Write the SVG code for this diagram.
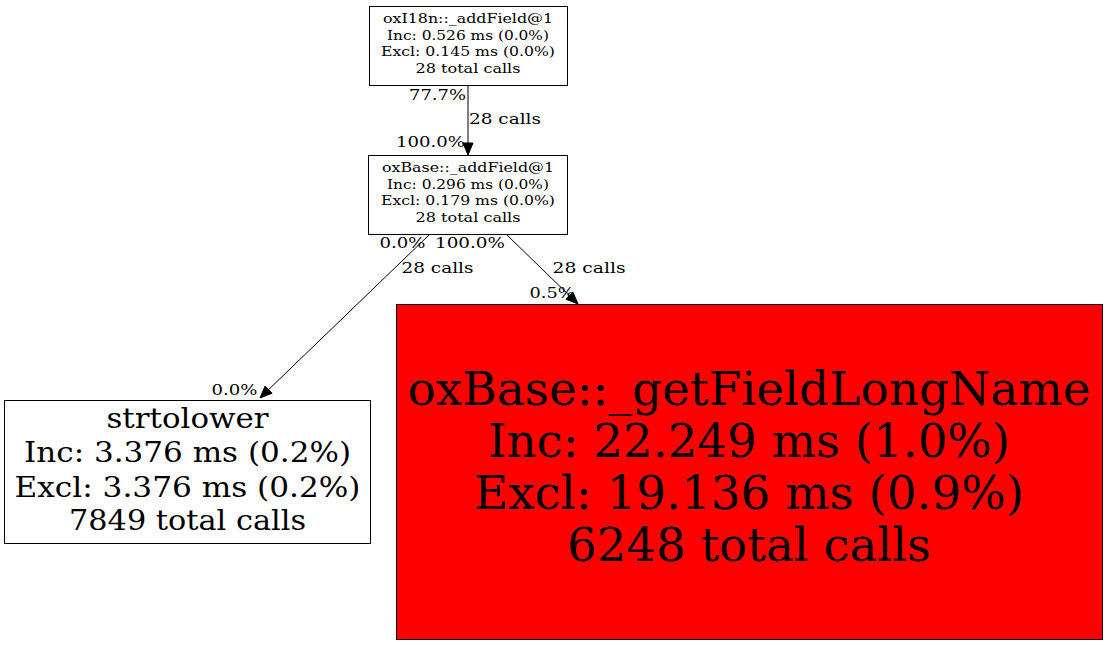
<svg xmlns="http://www.w3.org/2000/svg" width="1108" height="645" viewBox="0 0 1108 645">
<style>
text{font-family:"DejaVu Serif","Liberation Serif",serif;fill:#000}
.n rect{stroke:#000;stroke-width:1}
.s{font-size:13.3px;text-anchor:middle}
.m{font-size:27px;text-anchor:middle}
.b{font-size:46px;text-anchor:middle}
.e{font-size:14.6px}
.edges path{fill:none;stroke:#000;stroke-width:1}
.edges polygon{fill:#000;stroke:#000;stroke-width:1}
</style>
<rect width="1108" height="645" fill="#fff"/>
<g class="edges">
<path d="M468,85.5 L468,143"/>
<polygon points="463,143 473,143 468,155"/>
<path d="M429,235 L268.6,389.6"/>
<polygon points="272.1,393.2 265.1,386 260,398"/>
<path d="M507,235 L569.4,295.6"/>
<polygon points="565.9,299.2 572.9,292 578,304"/>
<text class="e" x="466" y="100" text-anchor="end" textLength="57" lengthAdjust="spacingAndGlyphs">77.7%</text>
<text class="e" x="469" y="124" textLength="72" lengthAdjust="spacingAndGlyphs">28 calls</text>
<text class="e" x="465" y="147" text-anchor="end" textLength="69" lengthAdjust="spacingAndGlyphs">100.0%</text>
<text class="e" x="379.5" y="248" textLength="46" lengthAdjust="spacingAndGlyphs">0.0%</text>
<text class="e" x="435" y="248" textLength="70" lengthAdjust="spacingAndGlyphs">100.0%</text>
<text class="e" x="401.5" y="273" textLength="72" lengthAdjust="spacingAndGlyphs">28 calls</text>
<text class="e" x="552.5" y="273" textLength="73" lengthAdjust="spacingAndGlyphs">28 calls</text>
<text class="e" x="529.5" y="298" textLength="45" lengthAdjust="spacingAndGlyphs">0.5%</text>
<text class="e" x="211.5" y="395" textLength="46" lengthAdjust="spacingAndGlyphs">0.0%</text>
</g>
<g id="node1" class="n">
<rect x="369.5" y="6.5" width="198" height="79" fill="#fff"/>
<text class="s" x="468" y="23" textLength="170" lengthAdjust="spacingAndGlyphs">oxI18n::_addField@1</text>
<text class="s" x="468" y="39.5" textLength="162" lengthAdjust="spacingAndGlyphs">Inc: 0.526 ms (0.0%)</text>
<text class="s" x="468" y="56" textLength="174" lengthAdjust="spacingAndGlyphs">Excl: 0.145 ms (0.0%)</text>
<text class="s" x="468" y="72.5" textLength="105" lengthAdjust="spacingAndGlyphs">28 total calls</text>
</g>
<g id="node2" class="n">
<rect x="368.5" y="155.5" width="199" height="79" fill="#fff"/>
<text class="s" x="468" y="172" textLength="172" lengthAdjust="spacingAndGlyphs">oxBase::_addField@1</text>
<text class="s" x="468" y="188.5" textLength="162" lengthAdjust="spacingAndGlyphs">Inc: 0.296 ms (0.0%)</text>
<text class="s" x="468" y="205" textLength="174" lengthAdjust="spacingAndGlyphs">Excl: 0.179 ms (0.0%)</text>
<text class="s" x="468" y="221.5" textLength="105" lengthAdjust="spacingAndGlyphs">28 total calls</text>
</g>
<g id="node3" class="n">
<rect x="4.5" y="400.5" width="366" height="143" fill="#fff"/>
<text class="m" x="187.5" y="428" textLength="162" lengthAdjust="spacingAndGlyphs">strtolower</text>
<text class="m" x="187.5" y="462" textLength="327" lengthAdjust="spacingAndGlyphs">Inc: 3.376 ms (0.2%)</text>
<text class="m" x="187.5" y="496.5" textLength="346" lengthAdjust="spacingAndGlyphs">Excl: 3.376 ms (0.2%)</text>
<text class="m" x="187.5" y="530" textLength="237" lengthAdjust="spacingAndGlyphs">7849 total calls</text>
</g>
<g id="node4" class="n">
<rect x="396.5" y="304.5" width="706" height="335" fill="#ff0000"/>
<text class="b" x="749" y="405" textLength="683" lengthAdjust="spacingAndGlyphs">oxBase::_getFieldLongName</text>
<text class="b" x="749" y="457" textLength="522" lengthAdjust="spacingAndGlyphs">Inc: 22.249 ms (1.0%)</text>
<text class="b" x="749" y="509" textLength="550" lengthAdjust="spacingAndGlyphs">Excl: 19.136 ms (0.9%)</text>
<text class="b" x="749" y="561" textLength="364" lengthAdjust="spacingAndGlyphs">6248 total calls</text>
</g>
</svg>
